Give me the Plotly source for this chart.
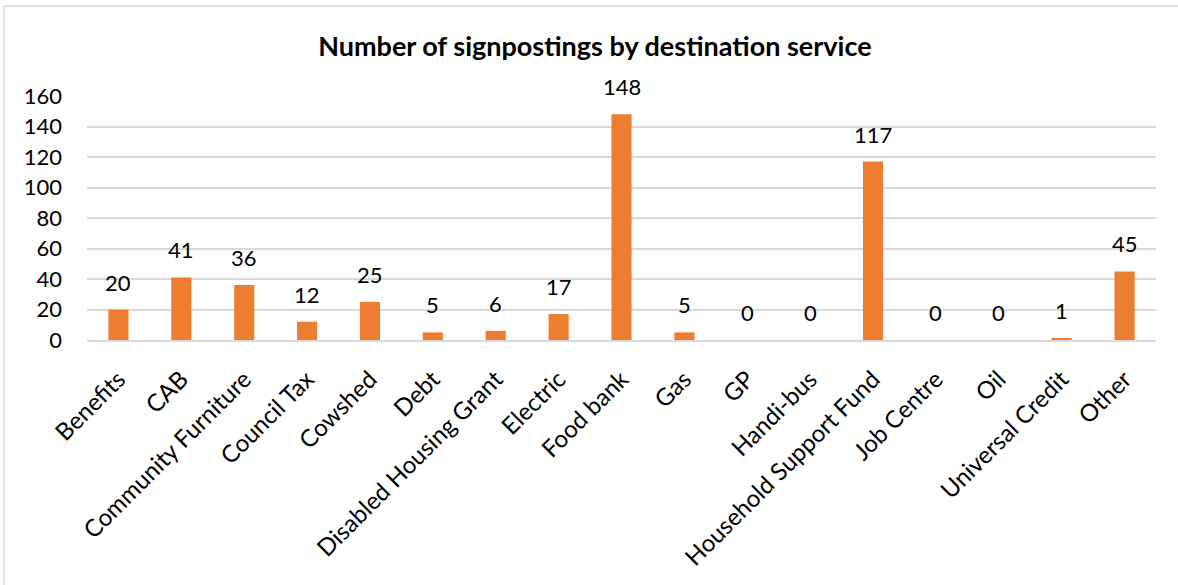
import plotly.graph_objects as go

categories = ["Benefits", "CAB", "Community Furniture", "Council Tax", "Cowshed", "Debt",
              "Disabled Housing Grant", "Electric", "Food bank", "Gas", "GP", "Handi-bus",
              "Household Support Fund", "Job Centre", "Oil", "Universal Credit", "Other"]
values = [20, 41, 36, 12, 25, 5, 6, 17, 148, 5, 0, 0, 117, 0, 0, 1, 45]
y_ticks = [0, 20, 40, 60, 80, 100, 120, 140, 160]

W, H = 1178, 585
L, R, T, B = 87, 22, 96, 245
pw, ph = W - L - R, H - T - B

def px_x(x):
    return (x - L) / pw

def px_y(y):
    return (H - B - y) / ph

font_family = "Lato, 'Open Sans', sans-serif"

fig = go.Figure(go.Bar(
    x=categories, y=values,
    marker=dict(color="#ED7D31", line=dict(width=0)),
    hoverinfo="x+y",
))

for c, v in zip(categories, values):
    fig.add_annotation(x=c, y=v, xref="x", yref="y", text=str(v), showarrow=False,
                       yanchor="bottom", yshift=12,
                       font=dict(size=22, color="#000000", family=font_family))

border = dict(color="#D9D9D9", width=1.5)
fig.update_layout(
    width=W, height=H,
    margin=dict(l=L, r=R, t=T, b=B),
    paper_bgcolor="white", plot_bgcolor="white",
    bargap=0.68,
    showlegend=False,
    title=dict(text="<b>Number of signpostings by destination service</b>",
               x=0.505, xref="container", xanchor="center", y=1 - 47 / H, yanchor="middle",
               font=dict(size=27, color="#000000", family=font_family)),
    xaxis=dict(tickangle=-45, tickfont=dict(size=24, color="#000000", family=font_family),
               showgrid=False, showline=True, linecolor="#D9D9D9", linewidth=1.5,
               ticks="", automargin=False, ticklabelstandoff=14),
    yaxis=dict(range=[0, 160], tickvals=y_ticks, tickfont=dict(size=22, color="#000000", family=font_family),
               showgrid=True, gridcolor="#D9D9D9", gridwidth=1.5, zeroline=False,
               showline=False, ticks="", automargin=False, ticklabelstandoff=24),
    shapes=[
        dict(type="line", xref="paper", yref="paper",
             x0=px_x(4), x1=px_x(1180), y0=px_y(6), y1=px_y(6), line=border, layer="below"),
        dict(type="line", xref="paper", yref="paper",
             x0=px_x(4), x1=px_x(4), y0=px_y(6), y1=px_y(590), line=border, layer="below"),
    ],
)

fig.write_html("out.html", post_script="document.body.style.margin='0';",
               config={"displayModeBar": False})
